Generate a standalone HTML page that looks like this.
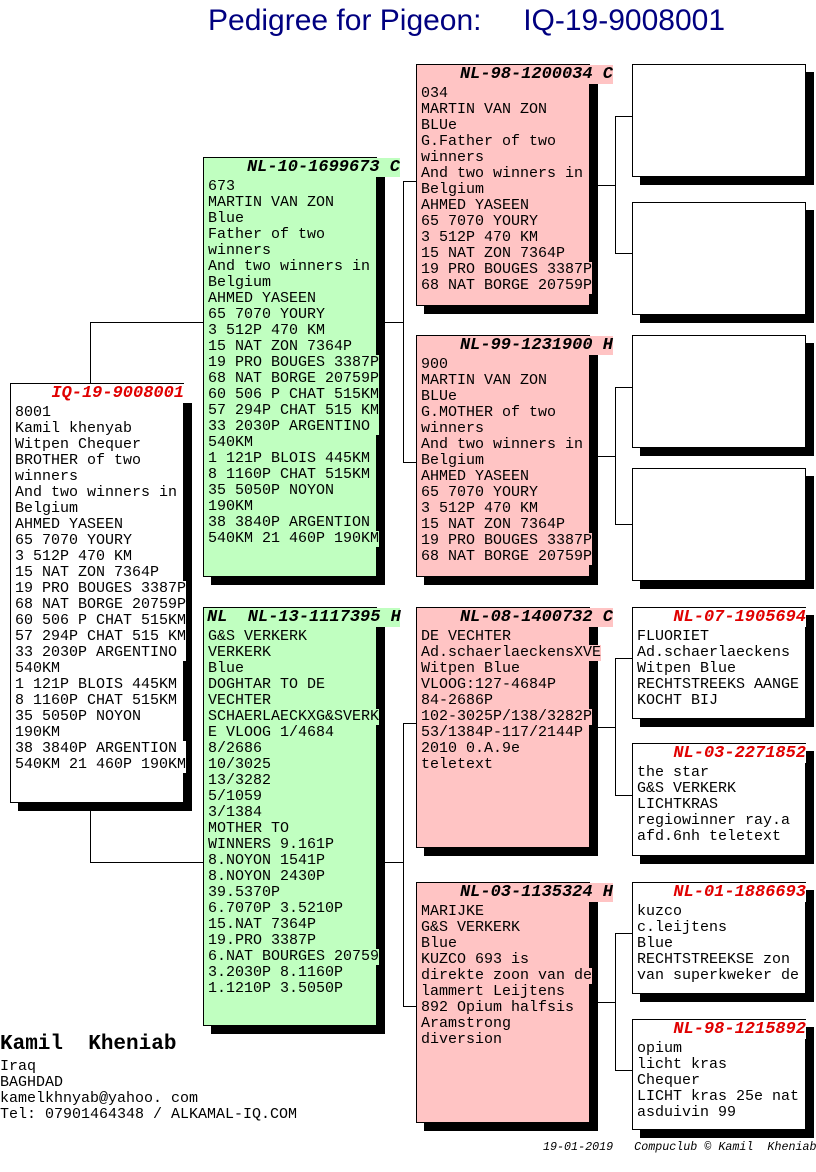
<!DOCTYPE html>
<html><head><meta charset="utf-8">
<style>
body{margin:0;width:816px;height:1172px;background:#fff;position:relative;overflow:hidden;font-family:"Liberation Mono",monospace;}
.b{position:absolute;box-sizing:border-box;width:174px;border:1px solid #000;box-shadow:8px 8px 0 #000;padding:21px 0 0 4px;font-size:15px;line-height:16px;color:#000;}
.b div{white-space:pre;width:max-content;position:relative;}
.g{background:#c0ffc0}.g div{background:#c0ffc0}
.p{background:#ffc4c4}.p div{background:#ffc4c4}
.w{background:#fff}.w div{background:#fff}
.t{position:absolute;height:19px;line-height:19px;font-weight:bold;font-style:italic;font-size:17px;white-space:pre;text-align:right;z-index:2}
.r{color:#e00000}
.h{position:absolute;height:1px;background:#000}
.v{position:absolute;width:1px;background:#000}
</style></head><body>
<div style="position:absolute;left:208px;top:3px;font-family:'Liberation Sans',sans-serif;font-size:30px;color:#000080;white-space:pre;line-height:36px">Pedigree for Pigeon:     IQ-19-9008001</div>

<!-- connectors -->
<div class="v" style="left:90px;top:322px;height:61px"></div>
<div class="h" style="left:90px;top:322px;width:113px"></div>
<div class="v" style="left:90px;top:810px;height:52px"></div>
<div class="h" style="left:90px;top:862px;width:113px"></div>

<div class="h" style="left:384px;top:322px;width:19px"></div>
<div class="v" style="left:403px;top:181px;height:282px"></div>
<div class="h" style="left:403px;top:181px;width:13px"></div>
<div class="h" style="left:403px;top:462px;width:13px"></div>

<div class="h" style="left:384px;top:862px;width:19px"></div>
<div class="v" style="left:403px;top:723px;height:284px"></div>
<div class="h" style="left:403px;top:723px;width:13px"></div>
<div class="h" style="left:403px;top:1006px;width:13px"></div>

<div class="h" style="left:597px;top:185px;width:18px"></div>
<div class="v" style="left:615px;top:116px;height:138px"></div>
<div class="h" style="left:615px;top:116px;width:17px"></div>
<div class="h" style="left:615px;top:253px;width:17px"></div>

<div class="h" style="left:597px;top:456px;width:18px"></div>
<div class="v" style="left:615px;top:387px;height:138px"></div>
<div class="h" style="left:615px;top:387px;width:17px"></div>
<div class="h" style="left:615px;top:524px;width:17px"></div>

<div class="h" style="left:597px;top:727px;width:18px"></div>
<div class="v" style="left:615px;top:658px;height:138px"></div>
<div class="h" style="left:615px;top:658px;width:17px"></div>
<div class="h" style="left:615px;top:795px;width:17px"></div>

<div class="h" style="left:597px;top:1002px;width:18px"></div>
<div class="v" style="left:615px;top:933px;height:138px"></div>
<div class="h" style="left:615px;top:933px;width:17px"></div>
<div class="h" style="left:615px;top:1070px;width:17px"></div>

<!-- main -->
<div class="b w" style="left:10px;top:383px;height:420px"><div>8001</div><div>Kamil khenyab</div><div>Witpen Chequer</div><div>BROTHER of two</div><div>winners</div><div>And two winners in</div><div>Belgium</div><div>AHMED YASEEN</div><div>65 7070 YOURY</div><div>3 512P 470 KM</div><div>15 NAT ZON 7364P</div><div>19 PRO BOUGES 3387P</div><div>68 NAT BORGE 20759P</div><div>60 506 P CHAT 515KM</div><div>57 294P CHAT 515 KM</div><div>33 2030P ARGENTINO </div><div>540KM</div><div>1 121P BLOIS 445KM</div><div>8 1160P CHAT 515KM</div><div>35 5050P NOYON</div><div>190KM</div><div>38 3840P ARGENTION </div><div>540KM 21 460P 190KM</div></div>
<div style="position:absolute;left:184px;top:390px;width:9px;height:13px;background:#fff;z-index:1"></div>
<div class="t r" style="left:11px;width:173px;top:384px;background:#fff">IQ-19-9008001</div>

<!-- sire -->
<div class="b g" style="left:203px;top:157px;height:420px"><div>673</div><div>MARTIN VAN ZON</div><div>Blue</div><div>Father of two</div><div>winners</div><div>And two winners in</div><div>Belgium</div><div>AHMED YASEEN</div><div>65 7070 YOURY</div><div>3 512P 470 KM</div><div>15 NAT ZON 7364P</div><div>19 PRO BOUGES 3387P</div><div>68 NAT BORGE 20759P</div><div>60 506 P CHAT 515KM</div><div>57 294P CHAT 515 KM</div><div>33 2030P ARGENTINO </div><div>540KM</div><div>1 121P BLOIS 445KM</div><div>8 1160P CHAT 515KM</div><div>35 5050P NOYON</div><div>190KM</div><div>38 3840P ARGENTION</div><div>540KM 21 460P 190KM</div></div>
<div class="t" style="left:204px;width:196px;top:158px;background:#c0ffc0">NL-10-1699673 C</div>

<!-- dam -->
<div class="b g" style="left:203px;top:607px;height:419px"><div>G&amp;S VERKERK</div><div>VERKERK</div><div>Blue</div><div>DOGHTAR TO DE</div><div>VECHTER</div><div>SCHAERLAECKXG&amp;SVERK</div><div>E VLOOG 1/4684</div><div>8/2686</div><div>10/3025</div><div>13/3282</div><div>5/1059</div><div>3/1384</div><div>MOTHER TO</div><div>WINNERS 9.161P</div><div>8.NOYON 1541P</div><div>8.NOYON 2430P</div><div>39.5370P</div><div>6.7070P 3.5210P</div><div>15.NAT 7364P</div><div>19.PRO 3387P</div><div>6.NAT BOURGES 20759</div><div>3.2030P 8.1160P</div><div>1.1210P 3.5050P</div></div>
<div class="t" style="left:204px;width:196px;top:608px;background:#c0ffc0;text-align:left;padding-left:3px;box-sizing:border-box">NL  NL-13-1117395 H</div>

<!-- GPs -->
<div class="b p" style="left:416px;top:64px;height:242px"><div>034</div><div>MARTIN VAN ZON</div><div>BLUe</div><div>G.Father of two</div><div>winners</div><div>And two winners in</div><div>Belgium</div><div>AHMED YASEEN</div><div>65 7070 YOURY</div><div>3 512P 470 KM</div><div>15 NAT ZON 7364P</div><div>19 PRO BOUGES 3387P</div><div>68 NAT BORGE 20759P</div></div>
<div class="t" style="left:417px;width:196px;top:65px;background:#ffc4c4">NL-98-1200034 C</div>

<div class="b p" style="left:416px;top:335px;height:242px"><div>900</div><div>MARTIN VAN ZON</div><div>BLUe</div><div>G.MOTHER of two</div><div>winners</div><div>And two winners in</div><div>Belgium</div><div>AHMED YASEEN</div><div>65 7070 YOURY</div><div>3 512P 470 KM</div><div>15 NAT ZON 7364P</div><div>19 PRO BOUGES 3387P</div><div>68 NAT BORGE 20759P</div></div>
<div class="t" style="left:417px;width:196px;top:336px;background:#ffc4c4">NL-99-1231900 H</div>

<div class="b p" style="left:416px;top:607px;height:241px"><div>DE VECHTER</div><div>Ad.schaerlaeckensXVE</div><div>Witpen Blue</div><div>VLOOG:127-4684P</div><div>84-2686P</div><div>102-3025P/138/3282P</div><div>53/1384P-117/2144P</div><div>2010 0.A.9e</div><div>teletext</div></div>
<div class="t" style="left:417px;width:196px;top:608px;background:#ffc4c4">NL-08-1400732 C</div>

<div class="b p" style="left:416px;top:882px;height:241px"><div>MARIJKE</div><div>G&amp;S VERKERK</div><div>Blue</div><div>KUZCO 693 is</div><div>direkte zoon van de</div><div>lammert Leijtens</div><div>892 Opium halfsis</div><div>Aramstrong</div><div>diversion</div></div>
<div class="t" style="left:417px;width:196px;top:883px;background:#ffc4c4">NL-03-1135324 H</div>

<!-- GGPs -->
<div class="b w" style="left:632px;top:64px;height:113px"></div>
<div class="b w" style="left:632px;top:202px;height:113px"></div>
<div class="b w" style="left:632px;top:335px;height:113px"></div>
<div class="b w" style="left:632px;top:468px;height:113px"></div>

<div class="b w" style="left:632px;top:607px;height:112px"><div>FLUORIET</div><div>Ad.schaerlaeckens</div><div>Witpen Blue</div><div>RECHTSTREEKS AANGE</div><div>KOCHT BIJ</div></div>
<div class="t r" style="left:633px;width:173px;top:608px;background:#fff">NL-07-1905694</div>

<div class="b w" style="left:632px;top:743px;height:113px"><div>the star</div><div>G&amp;S VERKERK</div><div>LICHTKRAS</div><div>regiowinner ray.a</div><div>afd.6nh teletext</div></div>
<div class="t r" style="left:633px;width:173px;top:744px;background:#fff">NL-03-2271852</div>

<div class="b w" style="left:632px;top:882px;height:112px"><div>kuzco</div><div>c.leijtens</div><div>Blue</div><div>RECHTSTREEKSE zon</div><div>van superkweker de</div></div>
<div class="t r" style="left:633px;width:173px;top:883px;background:#fff">NL-01-1886693</div>

<div class="b w" style="left:632px;top:1019px;height:111px"><div>opium</div><div>licht kras</div><div>Chequer</div><div>LICHT kras 25e nat</div><div>asduivin 99</div></div>
<div class="t r" style="left:633px;width:173px;top:1020px;background:#fff">NL-98-1215892</div>

<!-- footer -->
<div style="position:absolute;left:0;top:1033px;font-size:21px;font-weight:bold;line-height:24px;white-space:pre">Kamil  Kheniab</div>
<div style="position:absolute;left:0;top:1059px;font-size:15px;line-height:16px;white-space:pre">Iraq
BAGHDAD
kamelkhnyab@yahoo. com
Tel: 07901464348 / ALKAMAL-IQ.COM</div>
<div style="position:absolute;left:543px;top:1139px;font-size:11.7px;font-style:italic;line-height:16px;white-space:pre">19-01-2019   Compuclub © Kamil  Kheniab</div>
</body></html>
